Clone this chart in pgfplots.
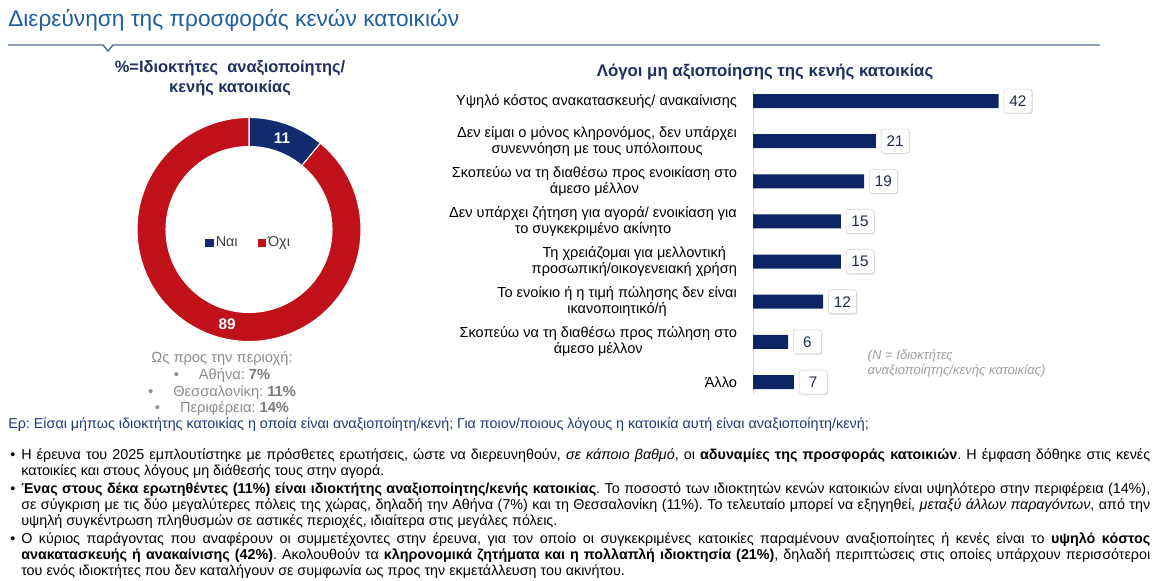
\documentclass[border=0pt]{standalone}
\usepackage{pgfplots}
\pgfplotsset{compat=1.18}
\usepackage{fontspec}
\setmainfont{Liberation Sans}
\usetikzlibrary{shadows}
\definecolor{titleblue}{HTML}{1F5FA0}
\definecolor{navytxt}{HTML}{1F2F5F}
\definecolor{barnavy}{HTML}{0C2462}
\definecolor{donutnavy}{HTML}{112B6E}
\definecolor{donutred}{HTML}{C0101A}
\definecolor{qblue}{HTML}{1F3A78}
\definecolor{linec}{HTML}{53698C}
\definecolor{greytxt}{HTML}{8C8C8C}
\definecolor{greynum}{HTML}{7A7A7A}
\definecolor{notegrey}{HTML}{A0A0A0}
\definecolor{valtxt}{HTML}{1F2D4D}
\definecolor{legtxt}{HTML}{404040}
\newcommand{\fs}[2]{\fontsize{#1}{#2}\selectfont}
\newcommand{\jline}[1]{\makebox[846.75pt][s]{#1}}
\frenchspacing

\begin{document}
\begin{tikzpicture}[x=0.75pt,y=-0.75pt]
\path[fill=white,use as bounding box] (0,0) rectangle (1163,581);

% page title and rule
\node[anchor=west, inner sep=0, text=titleblue, font=\fs{17}{20}] at (8,20) {Διερεύνηση της προσφοράς κενών κατοικιών};
\draw[linec, line width=1.1pt] (8,45) -- (103,45) -- (108,51) -- (113,45) -- (1100,45);

% left chart title
\node[text=navytxt, font=\bfseries\fs{12.3}{15}, align=center] at (230,78) {\%=Ιδιοκτήτες\ \ αναξιοποίητης/\\κενής κατοικίας};

% donut
\pgfmathsetmacro{\valYes}{11}
\pgfmathsetmacro{\valNo}{89}
\pgfmathsetmacro{\angA}{90}
\pgfmathsetmacro{\angB}{90-\valYes*3.6}
\pgfmathsetmacro{\angC}{\angB-\valNo*3.6}
\pgfmathsetmacro{\midA}{(\angA+\angB)/2}
\coordinate (dc) at (249,229.5);
\begin{axis}[at={(dc)}, anchor=center, scale only axis, width=168pt, height=168pt,
  xmin=-1, xmax=1, ymin=-1, ymax=1, hide axis, clip=false,
  legend columns=2,
  legend image code/.code={\fill[#1] (0pt,-2.7pt) rectangle (5.4pt,2.7pt);},
  legend style={at={(0.5,0.44)}, anchor=center, draw=none, fill=none,
    font=\fs{10.8}{12}, text=legtxt, inner sep=0pt,
    /tikz/every even column/.append style={column sep=13pt},
    /tikz/every odd column/.append style={column sep=0pt}},
  ]
\addlegendimage{donutnavy}
\addlegendentry{Ναι}
\addlegendimage{donutred}
\addlegendentry{Όχι}
\filldraw[fill=donutnavy, draw=white, line width=0.8pt] (axis cs:{cos(\angA)},{sin(\angA)}) arc[start angle=\angA, end angle=\angB, radius=84pt] -- (axis cs:{0.741*cos(\angB)},{0.741*sin(\angB)}) arc[start angle=\angB, end angle=\angA, radius=62.25pt] -- cycle;
\filldraw[fill=donutred, draw=white, line width=0.8pt] (axis cs:{cos(\angB)},{sin(\angB)}) arc[start angle=\angB, end angle=\angC, radius=84pt] -- (axis cs:{0.741*cos(\angC)},{0.741*sin(\angC)}) arc[start angle=\angC, end angle=\angB, radius=62.25pt] -- cycle;
\node[text=white, font=\bfseries\fs{11.5}{12}] at (axis cs:{0.87*cos(\midA)},{0.87*sin(\midA)}) {11};
\node[text=white, font=\bfseries\fs{11.5}{12}] at (axis cs:{0.87*cos(-103)},{0.87*sin(-103)}) {89};
\end{axis}

% region notes
\begin{scope}[every node/.style={text=greytxt, font=\fs{11}{12}}]
\node at (222,358) {Ως προς την περιοχή:};
\node at (222,375) {•\hspace{15pt}Αθήνα: \textcolor{greynum}{\textbf{7\%}}};
\node at (222,392) {•\hspace{15pt}Θεσσαλονίκη: \textcolor{greynum}{\textbf{11\%}}};
\node at (222,408) {•\hspace{15pt}Περιφέρεια: \textcolor{greynum}{\textbf{14\%}}};
\end{scope}

% right chart title
\node[text=navytxt, font=\bfseries\fs{12.6}{14}] at (765,72) {Λόγοι μη αξιοποίησης της κενής κατοικίας};

% bar chart
\coordinate (bo) at (753,88.2);
\begin{axis}[at={(bo)}, anchor=north west, scale only axis,
  width=219.375pt, height=230pt,
  xbar, bar width=10.5pt,
  xmin=0, xmax=50, ymin=-0.32, ymax=7.32, y dir=reverse,
  axis x line=none, axis y line=left,
  axis line style={-, draw=black!15, line width=0.75pt},
  ytick={0,1,2,3,4,5,6,7},
  yticklabels={
    {Υψηλό κόστος ανακατασκευής/ ανακαίνισης},
    {Δεν είμαι ο μόνος κληρονόμος, δεν υπάρχει\\συνεννόηση με τους υπόλοιπους},
    {Σκοπεύω να τη διαθέσω προς ενοικίαση στο\\άμεσο μέλλον},
    {Δεν υπάρχει ζήτηση για αγορά/ ενοικίαση για\\το συγκεκριμένο ακίνητο},
    {Τη χρειάζομαι για μελλοντική\\προσωπική/οικογενειακή χρήση},
    {Το ενοίκιο ή η τιμή πώλησης δεν είναι\\ικανοποιητικό/ή},
    {Σκοπεύω να τη διαθέσω προς πώληση στο\\άμεσο μέλλον},
    {Άλλο}},
  ytick style={draw=none},
  yticklabel style={align=center, inner sep=0pt, xshift=-9.75pt, font=\fs{10.9}{12}, text=black},
  nodes near coords,
  /pgf/number format/assume math mode=true,
  every node near coord/.append style={anchor=west, xshift=3.75pt, fill=white,
    draw=black!18, rounded corners=2pt, minimum width=21pt, minimum height=18pt,
    inner sep=1pt, text=valtxt, font=\fs{11.5}{12},
    drop shadow={shadow xshift=0.7pt, shadow yshift=-0.7pt, opacity=0.25}},
  clip=false]
\addplot[fill=barnavy, draw=none] coordinates {(42,0) (21,1) (19,2) (15,3) (15,4) (12,5) (6,6) (7,7)};
\end{axis}

\node[anchor=west, align=left, text=notegrey, font=\itshape\fs{9.8}{11.25}] at (863,363.5) {(N = Ιδιοκτήτες\\αναξιοποίητης/κενής κατοικίας)};

% question
\node[anchor=base west, inner sep=0, text=qblue, font=\fs{10.75}{12}] at (8,428) {Ερ: Είσαι μήπως ιδιοκτήτης κατοικίας η οποία είναι αναξιοποίητη/κενή; Για ποιον/ποιους λόγους η κατοικία αυτή είναι αναξιοποίητη/κενή;};

% bullets
\begin{scope}[every node/.style={anchor=base west, inner sep=0, font=\fs{10.75}{12}}]
\node at (10,459) {•};
\node at (10,493) {•};
\node at (10,543) {•};
\node at (21,459) {\jline{Η έρευνα του 2025 εμπλουτίστηκε με πρόσθετες ερωτήσεις, ώστε να διερευνηθούν, \textit{σε κάποιο βαθμό}, οι \textbf{αδυναμίες της προσφοράς κατοικιών}. Η έμφαση δόθηκε στις κενές}};
\node at (21,475) {κατοικίες και στους λόγους μη διάθεσής τους στην αγορά.};
\node at (21,493) {\jline{\textbf{Ένας στους δέκα ερωτηθέντες (11\%) είναι ιδιοκτήτης αναξιοποίητης/κενής κατοικίας}. Το ποσοστό των ιδιοκτητών κενών κατοικιών είναι υψηλότερο στην περιφέρεια (14\%),}};
\node at (21,509) {\jline{σε σύγκριση με τις δύο μεγαλύτερες πόλεις της χώρας, δηλαδή την Αθήνα (7\%) και τη Θεσσαλονίκη (11\%). Το τελευταίο μπορεί να εξηγηθεί, \textit{μεταξύ άλλων παραγόντων}, από την}};
\node at (21,525) {υψηλή συγκέντρωση πληθυσμών σε αστικές περιοχές, ιδιαίτερα στις μεγάλες πόλεις.};
\node at (21,543) {\jline{Ο κύριος παράγοντας που αναφέρουν οι συμμετέχοντες στην έρευνα, για τον οποίο οι συγκεκριμένες κατοικίες παραμένουν αναξιοποίητες ή κενές είναι το \textbf{υψηλό κόστος}}};
\node at (21,559) {\jline{\textbf{ανακατασκευής ή ανακαίνισης (42\%)}. Ακολουθούν τα \textbf{κληρονομικά ζητήματα και η πολλαπλή ιδιοκτησία (21\%)}, δηλαδή περιπτώσεις στις οποίες υπάρχουν περισσότεροι}};
\node at (21,575) {του ενός ιδιοκτήτες που δεν καταλήγουν σε συμφωνία ως προς την εκμετάλλευση του ακινήτου.};
\end{scope}
\end{tikzpicture}
\end{document}
